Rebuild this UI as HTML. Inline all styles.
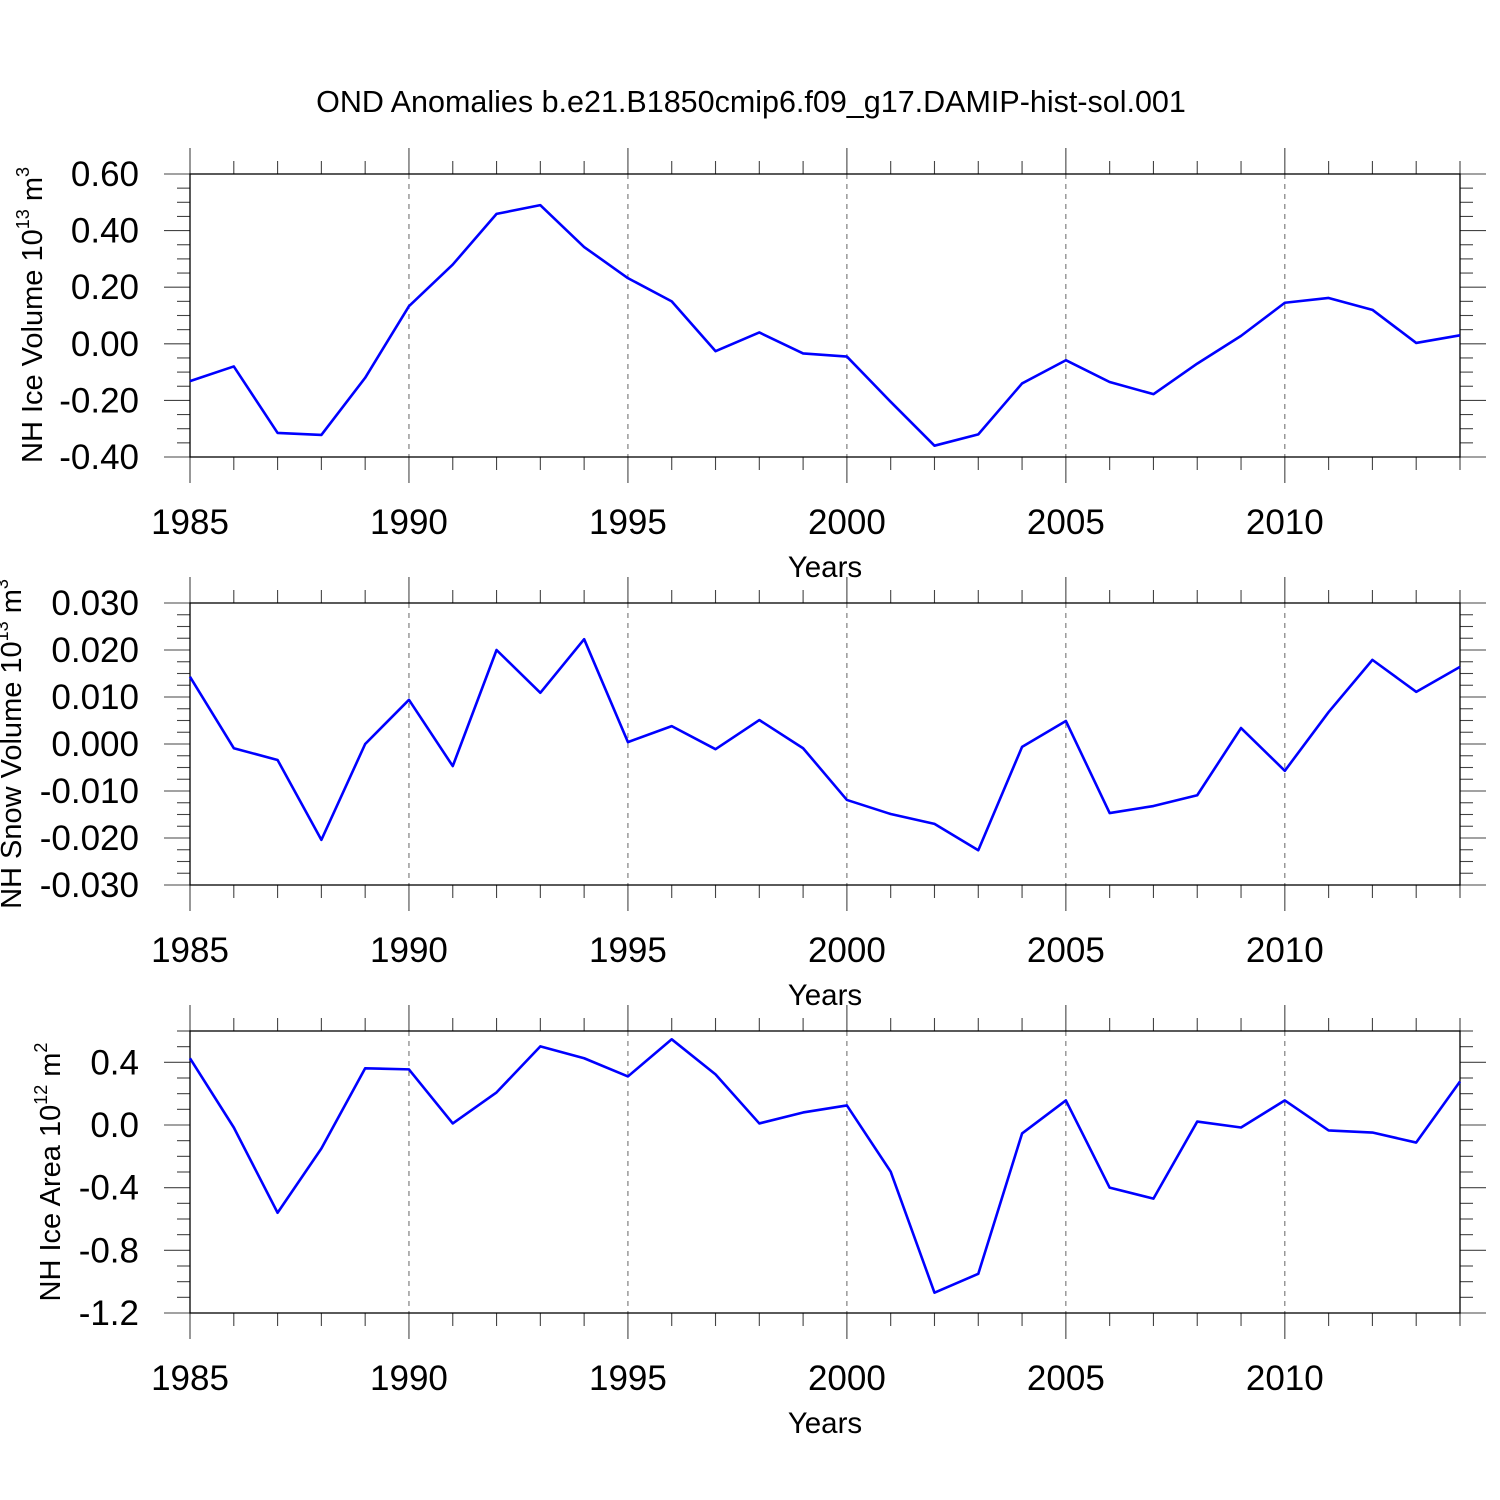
<!DOCTYPE html>
<html><head><meta charset="utf-8"><style>
html,body{margin:0;padding:0;background:#fff;}
svg{display:block;font-family:"Liberation Sans",sans-serif;}
</style></head><body>
<svg id="c" width="1500" height="1500" viewBox="0 0 1500 1500">
<text x="751" y="112" font-size="30.5" text-anchor="middle">OND Anomalies b.e21.B1850cmip6.f09_g17.DAMIP-hist-sol.001</text>
</svg>
<script>
const years = [1985,1986,1987,1988,1989,1990,1991,1992,1993,1994,1995,1996,1997,1998,1999,2000,2001,2002,2003,2004,2005,2006,2007,2008,2009,2010,2011,2012,2013,2014];
const iceVolume = [-0.132,-0.08,-0.315,-0.322,-0.12,0.133,0.28,0.459,0.49,0.342,0.232,0.15,-0.026,0.04,-0.034,-0.045,-0.205,-0.36,-0.32,-0.14,-0.058,-0.135,-0.178,-0.07,0.028,0.145,0.162,0.12,0.003,0.03];
const snowVolume = [0.0143,-0.0009,-0.0034,-0.0204,0.0,0.0094,-0.0047,0.020,0.0109,0.0223,0.0004,0.0038,-0.0011,0.0051,-0.0009,-0.0119,-0.0149,-0.017,-0.0226,-0.0006,0.0049,-0.0147,-0.0132,-0.0109,0.0034,-0.0057,0.0068,0.0179,0.0111,0.0164];
const iceArea = [0.426,-0.016,-0.56,-0.15,0.362,0.355,0.01,0.208,0.502,0.426,0.31,0.547,0.323,0.01,0.08,0.125,-0.298,-1.07,-0.95,-0.054,0.157,-0.4,-0.47,0.022,-0.016,0.157,-0.035,-0.048,-0.112,0.278];
const xTicks = [1985,1990,1995,2000,2005,2010];
const iceVolTicks = [-0.4,-0.2,0,0.2,0.4,0.6];
const snowTicks = [-0.03,-0.02,-0.01,0,0.01,0.02,0.03];
const areaTicks = [-1.2,-0.8,-0.4,0,0.4];

const NS='http://www.w3.org/2000/svg';
const svg=document.getElementById('c');
function mk(tag,attrs,parent){const e=document.createElementNS(NS,tag);for(const k in attrs)e.setAttribute(k,attrs[k]);(parent||svg).appendChild(e);return e;}
const X0=190,X1=1460,xmin=1985,xmax=2014;
const xs=v=>X0+(v-xmin)/(xmax-xmin)*(X1-X0);

function panel(name,top,bot,ymin,ymax,ticks,minorStep,dec,data,labelParts,labelY){
  const g=mk('g',{});
  
  
  const ys=v=>bot-(v-ymin)/(ymax-ymin)*(bot-top);
  xTicks.forEach(t=>{if(t===xmin)return;const l=mk('line',{x1:xs(t),x2:xs(t),y1:top,y2:bot,stroke:'#666','stroke-width':1,'stroke-dasharray':'5,5'},g);
    });
  for(let y=xmin;y<=xmax;y++){const x=xs(y);const maj=xTicks.includes(y);const L=maj?26:13;
    mk('line',{x1:x,x2:x,y1:top-L,y2:top,stroke:'#444','stroke-width':1.1},g);
    mk('line',{x1:x,x2:x,y1:bot,y2:bot+L,stroke:'#444','stroke-width':1.1},g);}
  const n=Math.round((ymax-ymin)/minorStep);
  for(let i=0;i<=n;i++){const v=ymin+i*minorStep;const y=ys(v);
    const maj=ticks.some(t=>Math.abs(t-v)<minorStep/10);const L=maj?26:13;
    mk('line',{x1:X0-L,x2:X0,y1:y,y2:y,stroke:'#444','stroke-width':1.1},g);
    mk('line',{x1:X1,x2:X1+L,y1:y,y2:y,stroke:'#444','stroke-width':1.1},g);}
  ticks.forEach(t=>{const tx=mk('text',{x:139,y:ys(t)+12,'font-size':35,'text-anchor':'end'},g);tx.textContent=t.toFixed(dec);
    });
  xTicks.forEach(t=>{const tx=mk('text',{x:xs(t),y:bot+77,'font-size':35,'text-anchor':'middle'},g);tx.textContent=t;
    });
  const fr=mk('rect',{x:X0,y:top,width:X1-X0,height:bot-top,fill:'none',stroke:'#000','stroke-width':1.3},g);
  
  const xt=mk('text',{x:825,y:bot+120,'font-size':29.5,'text-anchor':'middle'},g);xt.textContent='Years';
  
  const yt=mk('text',{x:0,y:0,'font-size':29,'text-anchor':'middle',transform:`translate(${labelParts[3]},${labelY}) rotate(-90)`},g);
  
  const t1=mk('tspan',{},yt);t1.textContent=labelParts[0];
  const t2=mk('tspan',{dy:-13,'font-size':18},yt);t2.textContent=labelParts[1];
  const t3=mk('tspan',{dy:13},yt);t3.textContent=' m';
  const t4=mk('tspan',{dy:-13,'font-size':18},yt);t4.textContent=labelParts[2];
  const pts=data.map((v,i)=>xs(years[i])+','+ys(v)).join(' ');
  const pl=mk('polyline',{points:pts,fill:'none',stroke:'#0000ff','stroke-width':2.6,'stroke-linejoin':'round'},g);
  
}
panel('ice-volume',174,457,-0.4,0.6,iceVolTicks,0.05,2,iceVolume,['NH Ice Volume 10','13','3',42],315);
panel('snow-volume',603,885,-0.03,0.03,snowTicks,0.0025,3,snowVolume,['NH Snow Volume 10','13','3',21],744);
panel('ice-area',1031,1313,-1.2,0.6,areaTicks,0.1,1,iceArea,['NH Ice Area 10','12','2',60],1172);
</script>
</body></html>
